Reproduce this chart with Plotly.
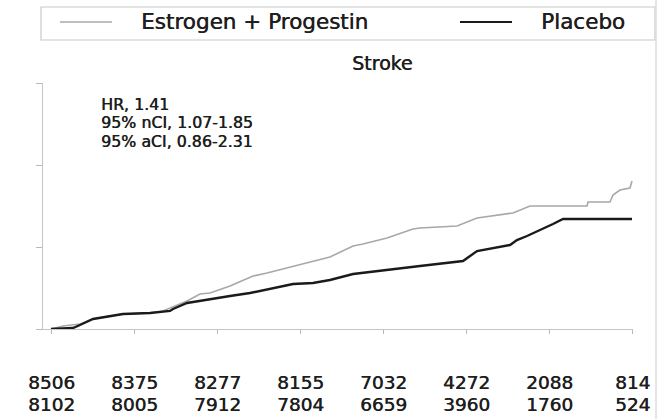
import plotly.graph_objects as go

# ---- data ----
years = [0, 1, 2, 3, 4, 5, 6, 7]
ep_at_risk = [8506, 8375, 8277, 8155, 7032, 4272, 2088, 814]
placebo_at_risk = [8102, 8005, 7912, 7804, 6659, 3960, 1760, 524]

ep_t = [0, 0.145, 0.349, 0.506, 0.867, 1.193, 1.349, 1.639, 1.795, 1.916, 2.157,
        2.434, 2.602, 2.843, 3.000, 3.241, 3.361, 3.639, 3.759, 4.048, 4.361,
        4.446, 4.892, 5.133, 5.566, 5.771, 6.458, 6.470, 6.735, 6.771, 6.855,
        6.976, 7.000]
ep_h = [0, 0.00037, 0.00061, 0.00122, 0.00183, 0.00195, 0.00220, 0.00341, 0.00427,
        0.00439, 0.00524, 0.00646, 0.00683, 0.00744, 0.00793, 0.00854, 0.00878,
        0.01012, 0.01037, 0.01110, 0.01220, 0.01232, 0.01256, 0.01354, 0.01415,
        0.01500, 0.01500, 0.01549, 0.01549, 0.01634, 0.01695, 0.01720, 0.01805]

pl_t = [0, 0.265, 0.349, 0.506, 0.867, 1.193, 1.434, 1.470, 1.639, 1.916, 2.157,
        2.398, 2.675, 2.916, 3.157, 3.361, 3.639, 3.964, 4.446, 4.964, 5.133,
        5.530, 5.614, 5.735, 5.928, 6.048, 6.169, 7.000]
pl_h = [0, 0.00012, 0.00049, 0.00122, 0.00183, 0.00195, 0.00220, 0.00244, 0.00317,
        0.00366, 0.00402, 0.00439, 0.00500, 0.00549, 0.00561, 0.00598, 0.00671,
        0.00707, 0.00768, 0.00829, 0.00951, 0.01024, 0.01085, 0.01134, 0.01220,
        0.01280, 0.01341, 0.01341]

y_ticks = [0, 0.01, 0.02, 0.03]
legend_labels = ["Estrogen + Progestin", "Placebo"]
title_text = "Stroke"
stats_lines = ["HR, 1.41", "95% nCI, 1.07-1.85", "95% aCI, 0.86-2.31"]

# ---- layout geometry (pixels) ----
W, H = 658, 419
L, R, T, B = 43, 25, 83, 90
PW, PH = W - L - R, H - T - B
FONT = "DejaVu Sans, Liberation Sans, Arial, sans-serif"
TXT = "#1e1e1e"
SHADOW = "0.5px 0px 0px #1e1e1e"
GRAY = "#a8a8a8"
BLACK = "#1a1a1a"


def px(x):
    return (x - L) / PW


def py(y):
    return (H - B - y) / PH


def font(size):
    return dict(family=FONT, size=size, color=TXT, shadow=SHADOW)


fig = go.Figure()
fig.add_trace(go.Scatter(x=ep_t, y=ep_h, mode="lines", name=legend_labels[0],
                         line=dict(color=GRAY, width=1.6), showlegend=False))
fig.add_trace(go.Scatter(x=pl_t, y=pl_h, mode="lines", name=legend_labels[1],
                         line=dict(color=BLACK, width=2.4), showlegend=False))

shapes = []
annotations = []

# legend box
shapes.append(dict(type="rect", xref="paper", yref="paper",
                   x0=px(41), x1=px(655), y0=py(40), y1=py(7),
                   line=dict(color="#c8c8c8", width=1.2), fillcolor="rgba(0,0,0,0)"))
shapes.append(dict(type="line", xref="paper", yref="paper",
                   x0=px(60), x1=px(112), y0=py(22), y1=py(22),
                   line=dict(color=GRAY, width=1.6)))
shapes.append(dict(type="line", xref="paper", yref="paper",
                   x0=px(460), x1=px(512), y0=py(22), y1=py(22),
                   line=dict(color=BLACK, width=2)))
annotations.append(dict(text=legend_labels[0], xref="paper", yref="paper",
                        x=px(139), y=py(22), xanchor="left", yanchor="middle",
                        showarrow=False, font=font(21.5)))
annotations.append(dict(text=legend_labels[1], xref="paper", yref="paper",
                        x=px(539), y=py(22), xanchor="left", yanchor="middle",
                        showarrow=False, font=font(21.5)))
# right edge line
shapes.append(dict(type="line", xref="paper", yref="paper",
                   x0=px(656), x1=px(656), y0=py(419), y1=py(0),
                   line=dict(color="#dcdcdc", width=1.5)))

# title
annotations.append(dict(text=title_text, xref="paper", yref="paper",
                        x=px(382), y=py(63), xanchor="center", yanchor="middle",
                        showarrow=False, font=font(19)))

# stats text
for i, line in enumerate(stats_lines):
    annotations.append(dict(text=line, xref="paper", yref="paper",
                            x=px(99), y=py(104 + 18.5 * i), xanchor="left", yanchor="middle",
                            showarrow=False, font=font(15.8)))

# numbers at risk
for yr, a, b in zip(years, ep_at_risk, placebo_at_risk):
    annotations.append(dict(text=str(a), xref="x", yref="paper", x=yr, y=py(382.5),
                            xanchor="center", yanchor="middle", showarrow=False,
                            font=font(18.5)))
    annotations.append(dict(text=str(b), xref="x", yref="paper", x=yr, y=py(404.5),
                            xanchor="center", yanchor="middle", showarrow=False,
                            font=font(18.5)))

fig.update_layout(
    width=W, height=H,
    margin=dict(l=L, r=R, t=T, b=B, pad=0),
    paper_bgcolor="white", plot_bgcolor="white",
    shapes=shapes, annotations=annotations,
    showlegend=False,
)
x0 = (L - 51) / 83.0
fig.update_xaxes(range=[x0, 7.012], tickvals=years, showticklabels=False,
                 ticks="outside", ticklen=4, tickcolor="#b8b8b8", tickwidth=1,
                 showline=True, linecolor="#c4c4c4", linewidth=1.2,
                 showgrid=False, zeroline=False)
fig.update_yaxes(range=[0, 0.03], tickvals=y_ticks, showticklabels=False,
                 ticks="outside", ticklen=6, tickcolor="#b8b8b8", tickwidth=1,
                 showline=True, linecolor="#c4c4c4", linewidth=1.2,
                 showgrid=False, zeroline=False)

fig.write_html("out.html")
